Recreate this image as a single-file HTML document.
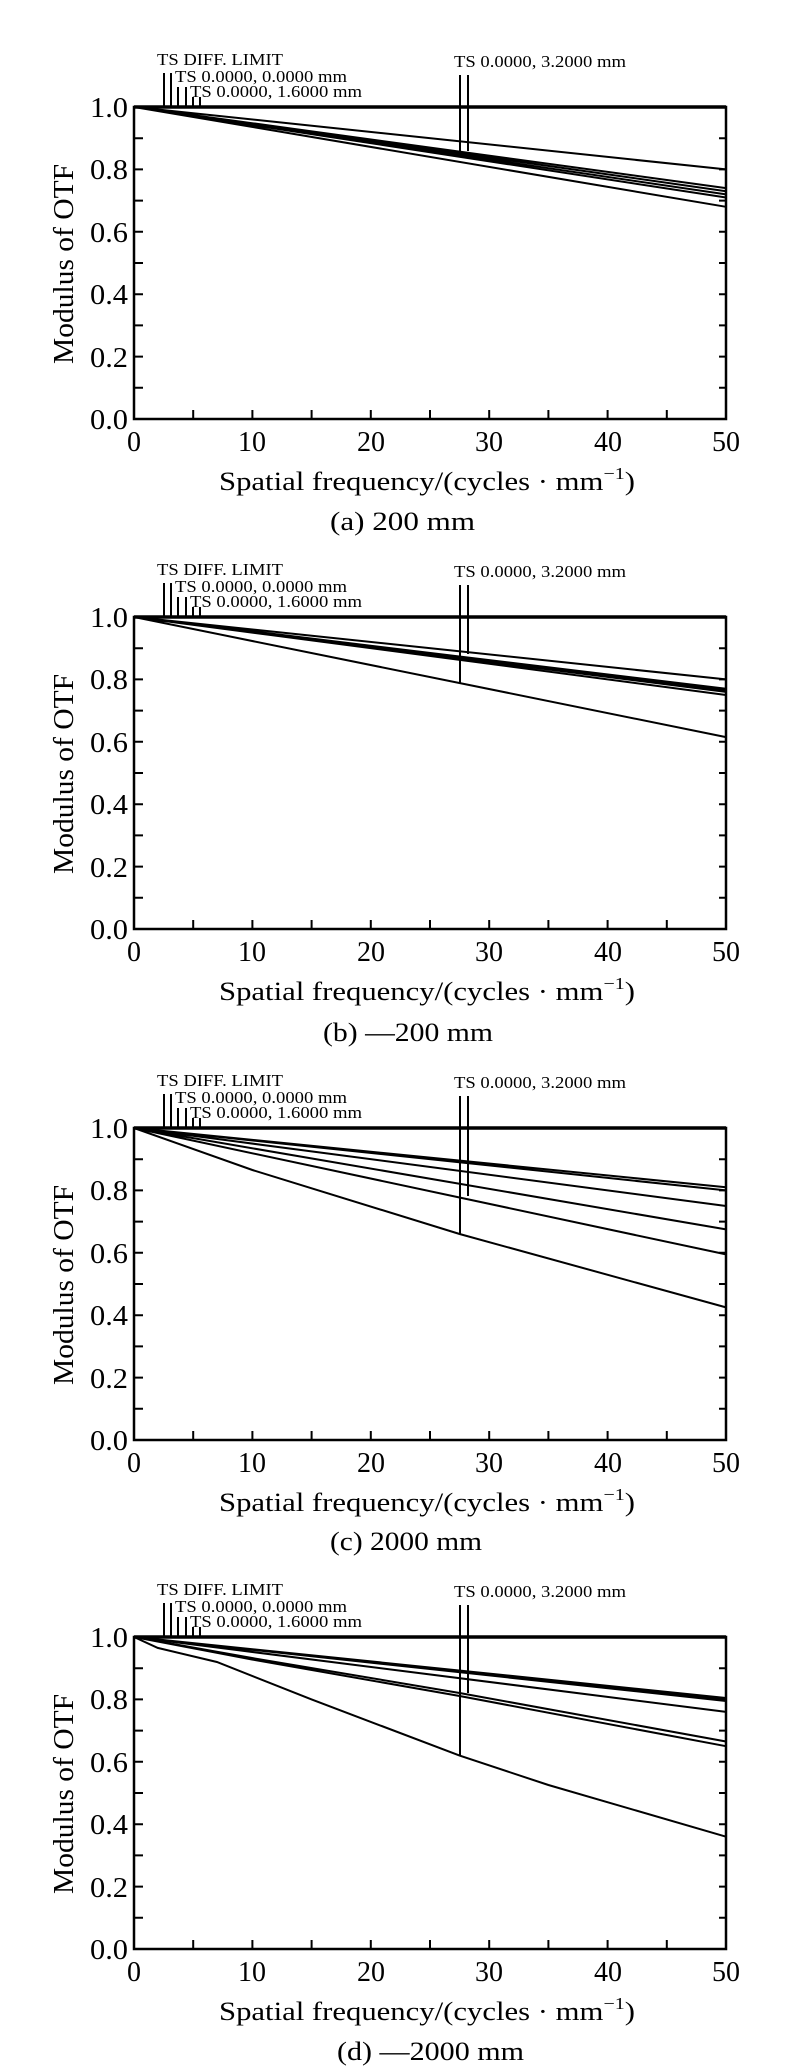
<!DOCTYPE html>
<html><head><meta charset="utf-8"><style>
html,body{margin:0;padding:0;background:#fff}
svg{display:block}
text{font-family:"Liberation Serif","Noto Serif CJK SC",serif;fill:#000}
.t{font-size:26px}
.k{font-size:28px}
.s{font-size:17px}
</style></head><body>
<svg width="800" height="2068" viewBox="0 0 800 2068" xmlns="http://www.w3.org/2000/svg">
<defs>
<g id="ax" fill="none" stroke="#000">
<rect x="134" y="0" width="592" height="312" stroke-width="2.5"/>
<line x1="134" y1="0" x2="726" y2="0" stroke-width="3.5"/>
<path stroke-width="2" d="M134 31.2h9M134 62.4h9M134 93.6h9M134 124.8h9M134 156h9M134 187.2h9M134 218.4h9M134 249.6h9M134 280.8h9
M726 31.2h-7M726 62.4h-7M726 93.6h-7M726 124.8h-7M726 156h-7M726 187.2h-7M726 218.4h-7M726 249.6h-7M726 280.8h-7
M193.2 312v-9M252.4 312v-9M311.6 312v-9M370.8 312v-9M430 312v-9M489.2 312v-9M548.4 312v-9M607.6 312v-9M666.8 312v-9
M164 0v-34M171 0v-34M178 0v-20M186 0v-20M193 0v-10M200 0v-10"/>
</g>
</defs>

<g transform="translate(0,107)">
<use href="#ax"/>
<g class="k" text-anchor="end"><text x="128" y="10" textLength="38" lengthAdjust="spacingAndGlyphs">1.0</text><text x="128" y="72" textLength="38" lengthAdjust="spacingAndGlyphs">0.8</text><text x="128" y="135" textLength="38" lengthAdjust="spacingAndGlyphs">0.6</text><text x="128" y="197" textLength="38" lengthAdjust="spacingAndGlyphs">0.4</text><text x="128" y="260" textLength="38" lengthAdjust="spacingAndGlyphs">0.2</text><text x="128" y="322" textLength="38" lengthAdjust="spacingAndGlyphs">0.0</text></g>
<text class="k" transform="translate(73,157) rotate(-90)" text-anchor="middle" textLength="200" lengthAdjust="spacingAndGlyphs">Modulus of OTF</text>
<g class="k" text-anchor="middle"><text x="134" y="344">0</text><text x="252" y="344">10</text><text x="371" y="344">20</text><text x="489" y="344">30</text><text x="608" y="344">40</text><text x="726" y="344">50</text></g>
<text class="t" x="219" y="383" textLength="416" lengthAdjust="spacingAndGlyphs">Spatial frequency/(cycles · mm<tspan font-size="17" dy="-11">−1</tspan><tspan dy="11">)</tspan></text>
<text class="t" x="330" y="423" textLength="145" lengthAdjust="spacingAndGlyphs">(a) 200 mm</text>
<g class="s"><text x="157" y="-42" textLength="126" lengthAdjust="spacingAndGlyphs">TS DIFF. LIMIT</text><text x="175" y="-25" textLength="172" lengthAdjust="spacingAndGlyphs">TS 0.0000, 0.0000 mm</text><text x="190" y="-10" textLength="172" lengthAdjust="spacingAndGlyphs">TS 0.0000, 1.6000 mm</text><text x="454" y="-40" textLength="172" lengthAdjust="spacingAndGlyphs">TS 0.0000, 3.2000 mm</text></g>
<g fill="none" stroke="#000" stroke-width="2">
<path d="M134 0L726 62.4M134 0L726 81.1M134 0L726 84.2M134 0L726 87.4M134 0L726 90.5M134 0L726 99.8"/>
<path d="M460 -32V50M468 -32V44"/>
</g>
</g>

<g transform="translate(0,617)">
<use href="#ax"/>
<g class="k" text-anchor="end"><text x="128" y="10" textLength="38" lengthAdjust="spacingAndGlyphs">1.0</text><text x="128" y="72" textLength="38" lengthAdjust="spacingAndGlyphs">0.8</text><text x="128" y="135" textLength="38" lengthAdjust="spacingAndGlyphs">0.6</text><text x="128" y="197" textLength="38" lengthAdjust="spacingAndGlyphs">0.4</text><text x="128" y="260" textLength="38" lengthAdjust="spacingAndGlyphs">0.2</text><text x="128" y="322" textLength="38" lengthAdjust="spacingAndGlyphs">0.0</text></g>
<text class="k" transform="translate(73,157) rotate(-90)" text-anchor="middle" textLength="200" lengthAdjust="spacingAndGlyphs">Modulus of OTF</text>
<g class="k" text-anchor="middle"><text x="134" y="344">0</text><text x="252" y="344">10</text><text x="371" y="344">20</text><text x="489" y="344">30</text><text x="608" y="344">40</text><text x="726" y="344">50</text></g>
<text class="t" x="219" y="383" textLength="416" lengthAdjust="spacingAndGlyphs">Spatial frequency/(cycles · mm<tspan font-size="17" dy="-11">−1</tspan><tspan dy="11">)</tspan></text>
<text class="t" x="323" y="424" textLength="170" lengthAdjust="spacingAndGlyphs">(b) —200 mm</text>
<g class="s"><text x="157" y="-42" textLength="126" lengthAdjust="spacingAndGlyphs">TS DIFF. LIMIT</text><text x="175" y="-25" textLength="172" lengthAdjust="spacingAndGlyphs">TS 0.0000, 0.0000 mm</text><text x="190" y="-10" textLength="172" lengthAdjust="spacingAndGlyphs">TS 0.0000, 1.6000 mm</text><text x="454" y="-40" textLength="172" lengthAdjust="spacingAndGlyphs">TS 0.0000, 3.2000 mm</text></g>
<g fill="none" stroke="#000" stroke-width="2">
<path d="M134 0L726 62.4M134 0L726 71.8M134 0L726 73.3M134 0L726 74.9M134 0L726 78M134 0L726 120.1"/>
<path d="M460 -32V66M468 -32V37"/>
</g>
</g>

<g transform="translate(0,1128)">
<use href="#ax"/>
<g class="k" text-anchor="end"><text x="128" y="10" textLength="38" lengthAdjust="spacingAndGlyphs">1.0</text><text x="128" y="72" textLength="38" lengthAdjust="spacingAndGlyphs">0.8</text><text x="128" y="135" textLength="38" lengthAdjust="spacingAndGlyphs">0.6</text><text x="128" y="197" textLength="38" lengthAdjust="spacingAndGlyphs">0.4</text><text x="128" y="260" textLength="38" lengthAdjust="spacingAndGlyphs">0.2</text><text x="128" y="322" textLength="38" lengthAdjust="spacingAndGlyphs">0.0</text></g>
<text class="k" transform="translate(73,157) rotate(-90)" text-anchor="middle" textLength="200" lengthAdjust="spacingAndGlyphs">Modulus of OTF</text>
<g class="k" text-anchor="middle"><text x="134" y="344">0</text><text x="252" y="344">10</text><text x="371" y="344">20</text><text x="489" y="344">30</text><text x="608" y="344">40</text><text x="726" y="344">50</text></g>
<text class="t" x="219" y="383" textLength="416" lengthAdjust="spacingAndGlyphs">Spatial frequency/(cycles · mm<tspan font-size="17" dy="-11">−1</tspan><tspan dy="11">)</tspan></text>
<text class="t" x="330" y="422" textLength="152" lengthAdjust="spacingAndGlyphs">(c) 2000 mm</text>
<g class="s"><text x="157" y="-42" textLength="126" lengthAdjust="spacingAndGlyphs">TS DIFF. LIMIT</text><text x="175" y="-25" textLength="172" lengthAdjust="spacingAndGlyphs">TS 0.0000, 0.0000 mm</text><text x="190" y="-10" textLength="172" lengthAdjust="spacingAndGlyphs">TS 0.0000, 1.6000 mm</text><text x="454" y="-40" textLength="172" lengthAdjust="spacingAndGlyphs">TS 0.0000, 3.2000 mm</text></g>
<g fill="none" stroke="#000" stroke-width="2">
<path d="M134 0L726 59.3M134 0L726 62.4M134 0L726 78M134 0L726 101.4M134 0L726 126.4"/>
<path d="M134 0L252.4 42L459.6 106L726 179.4"/>
<path d="M460 -32V106M468 -32V68"/>
</g>
</g>

<g transform="translate(0,1637)">
<use href="#ax"/>
<g class="k" text-anchor="end"><text x="128" y="10" textLength="38" lengthAdjust="spacingAndGlyphs">1.0</text><text x="128" y="72" textLength="38" lengthAdjust="spacingAndGlyphs">0.8</text><text x="128" y="135" textLength="38" lengthAdjust="spacingAndGlyphs">0.6</text><text x="128" y="197" textLength="38" lengthAdjust="spacingAndGlyphs">0.4</text><text x="128" y="260" textLength="38" lengthAdjust="spacingAndGlyphs">0.2</text><text x="128" y="322" textLength="38" lengthAdjust="spacingAndGlyphs">0.0</text></g>
<text class="k" transform="translate(73,157) rotate(-90)" text-anchor="middle" textLength="200" lengthAdjust="spacingAndGlyphs">Modulus of OTF</text>
<g class="k" text-anchor="middle"><text x="134" y="344">0</text><text x="252" y="344">10</text><text x="371" y="344">20</text><text x="489" y="344">30</text><text x="608" y="344">40</text><text x="726" y="344">50</text></g>
<text class="t" x="219" y="383" textLength="416" lengthAdjust="spacingAndGlyphs">Spatial frequency/(cycles · mm<tspan font-size="17" dy="-11">−1</tspan><tspan dy="11">)</tspan></text>
<text class="t" x="337" y="423" textLength="187" lengthAdjust="spacingAndGlyphs">(d) —2000 mm</text>
<g class="s"><text x="157" y="-42" textLength="126" lengthAdjust="spacingAndGlyphs">TS DIFF. LIMIT</text><text x="175" y="-25" textLength="172" lengthAdjust="spacingAndGlyphs">TS 0.0000, 0.0000 mm</text><text x="190" y="-10" textLength="172" lengthAdjust="spacingAndGlyphs">TS 0.0000, 1.6000 mm</text><text x="454" y="-40" textLength="172" lengthAdjust="spacingAndGlyphs">TS 0.0000, 3.2000 mm</text></g>
<g fill="none" stroke="#000" stroke-width="2">
<path d="M134 0L726 61M134 0L726 62.4M134 0L726 64M134 0L726 74.9"/>
<path d="M134 0L252 21L459.6 56L726 104.5M134 0L252 22.5L459.6 59L726 109.2"/>
<path d="M134 0L157.7 10.9L216.9 25L311.6 62.4L459.6 118.6L548.4 148L726 199.7"/>
<path d="M460 -32V118M468 -32V56"/>
</g>
</g>
</svg>
</body></html>
